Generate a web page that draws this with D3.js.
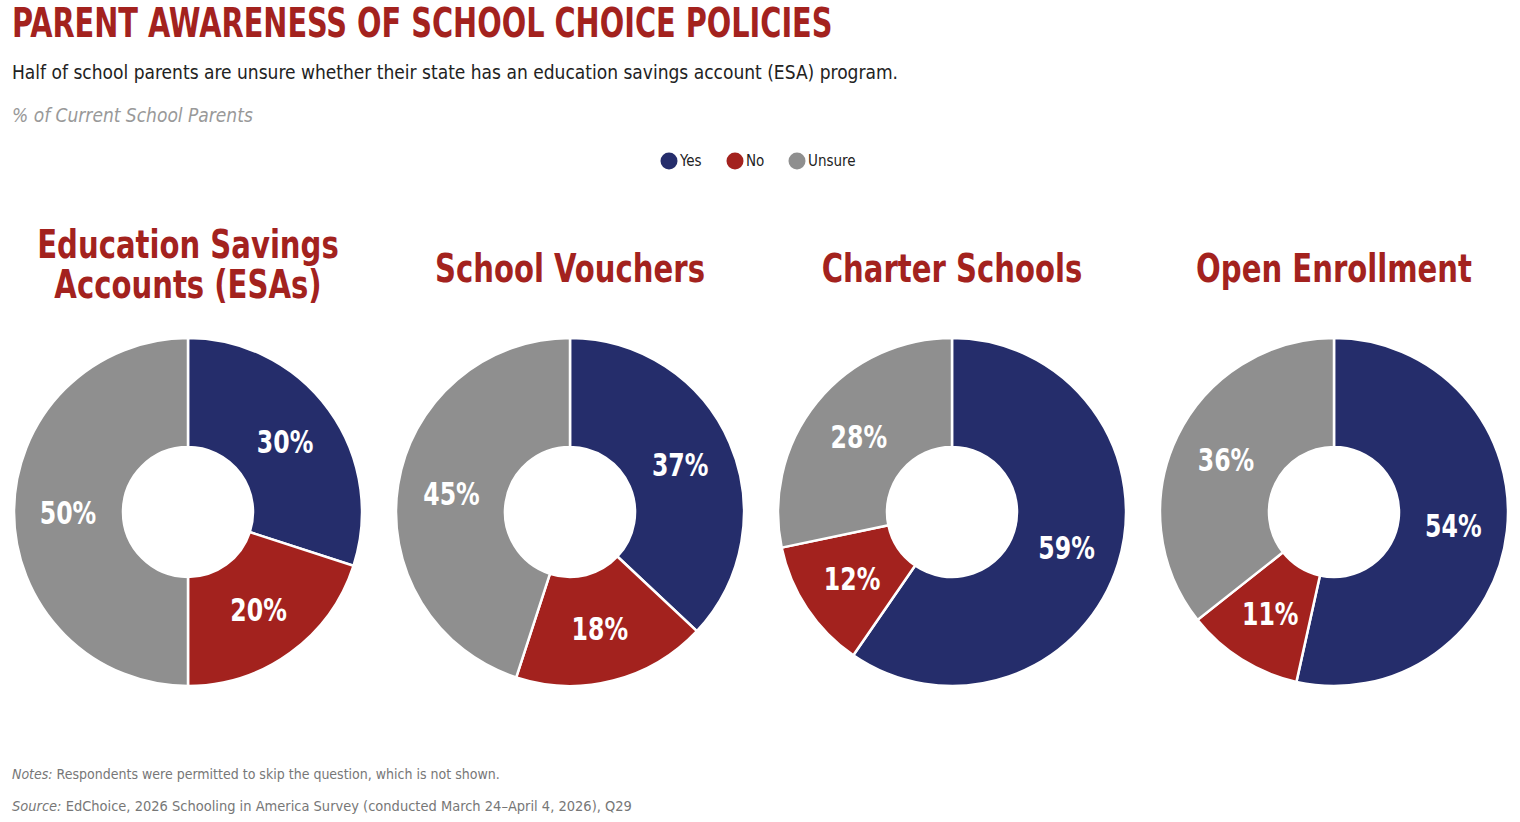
<!doctype html>
<html lang="en">
<head>
  <meta charset="utf-8">
  <title>Parent Awareness of School Choice Policies</title>
  <style>
    body { margin: 0; background: #fff; }
    svg { display: block; }
    .cond { font-family: "Liberation Sans Narrow", "DejaVu Sans Condensed", "Roboto Condensed", sans-serif; }
  </style>
</head>
<body>
  <div id="chart"></div>

  <script src="https://cdn.jsdelivr.net/npm/d3@7/dist/d3.min.js"></script>
  <script>
  (function(){

    // data
    var categories = ["Yes", "No", "Unsure"];
    var policies = [["Education Savings", "Accounts (ESAs)"], ["School Vouchers"], ["Charter Schools"], ["Open Enrollment"]];
    var yesValues    = [30, 37, 59, 54];
    var noValues     = [20, 18, 12, 11];
    var unsureValues = [50, 45, 28, 36];

    var width = 1520, height = 822;
    var red = "#a3221e";
    var colors = d3.scaleOrdinal().domain(categories).range(["#252d6b", red, "#8f8f8f"]);

    var svg = d3.select("#chart").append("svg")
        .attr("width", width)
        .attr("height", height);

    // the original uses a very narrow display face: squeeze sideways around an anchor point
    function squeeze(sel, k, ax, ay) {
      sel.attr("transform", "translate(" + ax + "," + ay + ") scale(" + k + ",1) translate(" + (-ax) + "," + (-ay) + ")");
    }

    // header
    svg.append("text").attr("class", "cond")
      .attr("x", 12).attr("y", 37)
      .style("font-size", "40px").style("font-weight", "bold")
      .style("fill", red)
      .text("PARENT AWARENESS OF SCHOOL CHOICE POLICIES")
      .call(squeeze, 0.8, 12, 37);

    svg.append("text").attr("class", "cond")
      .attr("x", 12).attr("y", 79)
      .style("font-size", "19px").style("fill", "#222")
      .text("Half of school parents are unsure whether their state has an education savings account (ESA) program.");

    svg.append("text").attr("class", "cond")
      .attr("x", 12).attr("y", 122)
      .style("font-size", "19px").style("font-style", "italic").style("fill", "#999")
      .text("% of Current School Parents");

    // legend
    var legend = svg.append("g").attr("class", "cond");
    var legendX = [669, 735, 797];
    categories.forEach(function(c, i) {
      var g = legend.append("g").attr("transform", "translate(" + legendX[i] + ",161)");
      g.append("circle").attr("r", 8.5).style("fill", colors(c));
      g.append("text").attr("x", 11).attr("dy", "0.35em")
        .style("font-size", "15px").style("fill", "#222").text(c);
    });

    // donuts
    var x = d3.scalePoint().domain(d3.range(policies.length)).range([188, 1334]);
    var cy = 512, outer = 174, inner = 65;
    var pie = d3.pie().sort(null);
    var arc = d3.arc().innerRadius(inner).outerRadius(outer);
    var labelArc = d3.arc().innerRadius(120).outerRadius(120);

    policies.forEach(function(name, i) {
      var vals = [yesValues[i], noValues[i], unsureValues[i]];
      var g = svg.append("g").attr("transform", "translate(" + x(i) + "," + cy + ")");
      var arcs = pie(vals);

      g.selectAll("path").data(arcs).enter().append("path")
        .attr("d", arc)
        .style("fill", function(d, j) { return colors(categories[j]); })
        .style("stroke", "#fff").style("stroke-width", 2.5);

      g.selectAll(".lbl").data(arcs).enter().append("text")
        .attr("class", "lbl cond")
        .attr("transform", function(d) { return "translate(" + labelArc.centroid(d) + ") scale(0.82,1)"; })
        .attr("text-anchor", "middle").attr("dy", "0.36em")
        .style("font-size", "32px").style("font-weight", "bold").style("fill", "#fff")
        .text(function(d) { return d.data + "%"; });

      // policy title, one or two lines
      var base = name.length > 1 ? 258 : 282;
      var t = svg.append("text").attr("class", "cond")
        .attr("text-anchor", "middle")
        .style("font-size", "39px").style("font-weight", "bold").style("fill", red);
      name.forEach(function(line, k) {
        t.append("tspan").attr("x", x(i)).attr("y", base + k * 40).text(line);
      });
      t.call(squeeze, 0.83, x(i), base);
    });

    // footnotes
    var notes = svg.append("text").attr("class", "cond")
      .attr("x", 12).attr("y", 779).style("font-size", "14px").style("fill", "#777");
    notes.append("tspan").style("font-style", "italic").text("Notes:");
    notes.append("tspan").text(" Respondents were permitted to skip the question, which is not shown.");

    var source = svg.append("text").attr("class", "cond")
      .attr("x", 12).attr("y", 811).style("font-size", "14.5px").style("fill", "#777");
    source.append("tspan").style("font-style", "italic").text("Source:");
    source.append("tspan").text(" EdChoice, 2026 Schooling in America Survey (conducted March 24\u2013April 4, 2026), Q29");

  })();
  </script>
</body>
</html>
